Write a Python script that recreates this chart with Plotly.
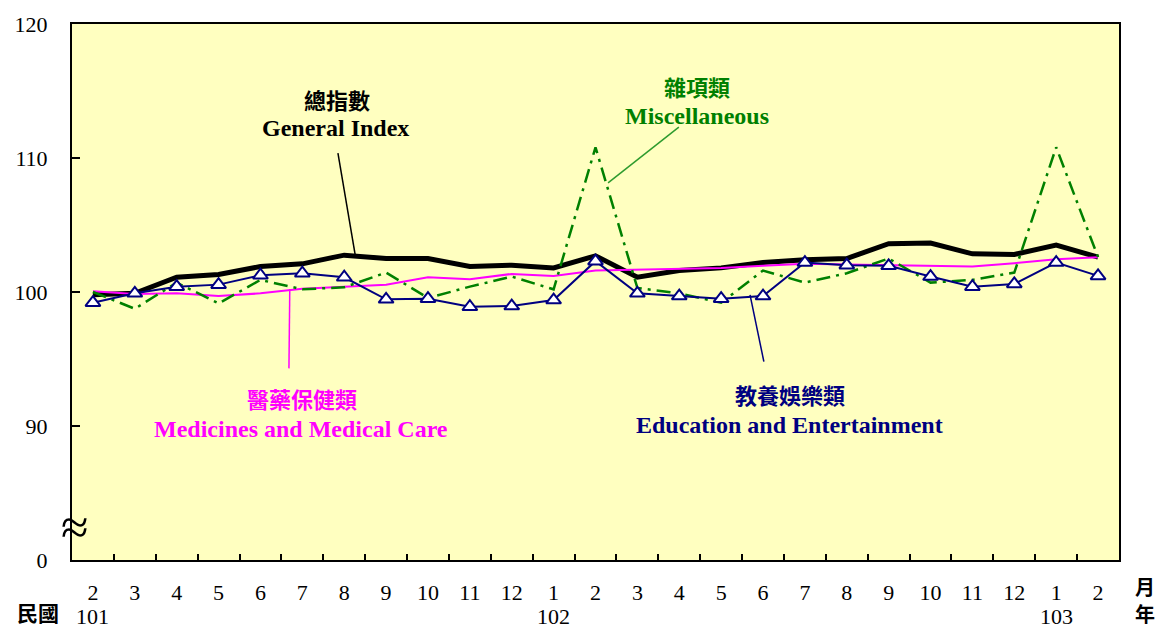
import plotly.graph_objects as go

months = ["2", "3", "4", "5", "6", "7", "8", "9", "10", "11", "12", "1",
          "2", "3", "4", "5", "6", "7", "8", "9", "10", "11", "12", "1", "2"]
year_labels = {0: "101", 11: "102", 23: "103"}

general = [99.8, 99.9, 101.1, 101.3, 101.9, 102.1, 102.75, 102.5, 102.5, 101.9, 102.0, 101.8,
           102.7, 101.1, 101.6, 101.8, 102.2, 102.4, 102.5, 103.6, 103.65, 102.85, 102.8, 103.5, 102.6]
education = [99.2, 99.9, 100.4, 100.55, 101.25, 101.4, 101.1, 99.45, 99.5, 98.9, 98.95, 99.4,
             102.3, 99.9, 99.7, 99.5, 99.7, 102.2, 102.0, 101.95, 101.15, 100.4, 100.6, 102.2, 101.2]
medicines = [100.05, 99.85, 99.9, 99.7, 99.9, 100.25, 100.4, 100.55, 101.1, 100.95, 101.35, 101.2,
             101.6, 101.65, 101.7, 101.8, 101.95, 102.1, 102.05, 102.0, 101.9, 101.9, 102.15, 102.45, 102.6]
misc = [100.0, 98.75, 100.7, 99.15, 100.9, 100.2, 100.35, 101.45, 99.55, 100.4, 101.15, 100.2,
        110.8, 100.3, 99.9, 99.2, 101.6, 100.7, 101.4, 102.5, 100.7, 100.9, 101.45, 110.8, 102.6]

ytick_vals = [80, 90, 100, 110, 120]
ytick_text = ["0", "90", "100", "110", "120"]

xs = list(range(len(months)))
SERIF = "Liberation Serif, Times New Roman, serif"
CJK = "Noto Sans CJK TC"

fig = go.Figure()
fig.add_trace(go.Scatter(x=xs, y=general, mode="lines", line=dict(color="black", width=5),
                         name="總指數 General Index"))
fig.add_trace(go.Scatter(x=xs, y=medicines, mode="lines", line=dict(color="#FF00FF", width=2),
                         name="醫藥保健類"))
fig.add_trace(go.Scatter(x=xs, y=misc, mode="lines",
                         line=dict(color="#008000", width=2.5, dash="14px,6px,3px,6px"),
                         name="雜項類"))
fig.add_trace(go.Scatter(x=xs, y=education, mode="lines+markers",
                         line=dict(color="#000080", width=2),
                         marker=dict(symbol="triangle-up", size=13, color="white",
                                     line=dict(color="#000080", width=2)),
                         name="教養娛樂類"))

ann = []
def label(x, y, text, color, cjk=False):
    ann.append(dict(x=x, y=y, xref="x", yref="y", text=f"<b>{text}</b>", showarrow=False,
                    font=dict(family=CJK if cjk else SERIF, size=22 if cjk else 24, color=color),
                    xanchor="center", yanchor="middle"))

label(5.83, 114.44, "總指數", "black", True)
label(5.80, 112.22, "General Index", "black")
label(14.42, 115.41, "雜項類", "#008000", True)
label(14.42, 113.11, "Miscellaneous", "#008000")
label(4.99, 92.07, "醫藥保健類", "#FF00FF", True)
label(4.97, 89.78, "Medicines and Medical Care", "#FF00FF")
label(16.64, 92.37, "教養娛樂類", "#000080", True)
label(16.64, 90.07, "Education and Entertainment", "#000080")

for i, t in year_labels.items():
    ann.append(dict(x=i, y=0, xref="x", yref="paper", yshift=-56, text=t, showarrow=False,
                    font=dict(family=SERIF, size=22, color="black"), xanchor="center", yanchor="middle"))

W, H = 1158, 630
ML, MR, MT, MB = 72, 39, 20, 70
pw, ph = W - ML - MR, H - MT - MB
px_ann = [
    (38, 612, "<b>民國</b>", CJK, 21),
    (1145, 587, "<b>月</b>", CJK, 20),
    (1145, 614, "<b>年</b>", CJK, 20),
    (74, 527, "≈", SERIF, 50),
]
for (px, py, t, fam, sz) in px_ann:
    ann.append(dict(x=(px - ML) / pw, y=(H - MB - py) / ph, xref="paper", yref="paper",
                    text=t, showarrow=False, font=dict(family=fam, size=sz, color="black"),
                    xanchor="center", yanchor="middle"))

shapes = []
def pointer(x0, y0, x1, y1, color, width=1.5):
    shapes.append(dict(type="line", xref="x", yref="y", x0=x0, y0=y0, x1=x1, y1=y1,
                       line=dict(color=color, width=width)))

pointer(5.85, 110.37, 6.26, 102.81, "black")
pointer(13.99, 112.30, 12.30, 108.15, "#2E9B2E")
pointer(4.68, 94.30, 4.70, 100.22, "#FF00FF")
pointer(16.02, 94.81, 15.69, 99.78, "#000080")

fig.update_layout(
    width=W, height=H,
    margin=dict(l=ML, r=MR, t=MT, b=MB, pad=0),
    paper_bgcolor="white", plot_bgcolor="#FFFFC0",
    showlegend=False,
    annotations=ann, shapes=shapes,
    font=dict(family=SERIF, size=22, color="black"),
)
fig.update_xaxes(
    range=[-0.5, len(months) - 0.5], tickmode="array", tickvals=xs, ticktext=months,
    ticks="", showgrid=False, zeroline=False,
    showline=True, linecolor="black", linewidth=2, mirror=True,
    tickfont=dict(family=SERIF, size=22, color="black"), ticklabelstandoff=12,
    minor=dict(tickmode="array", tickvals=[i + 0.5 for i in xs[:-1]], ticks="inside",
               ticklen=6, tickwidth=1.5, tickcolor="black", showgrid=False),
)
fig.update_yaxes(
    range=[80, 120], tickmode="array", tickvals=ytick_vals, ticktext=ytick_text,
    ticks="inside", ticklen=8, tickwidth=1.5, tickcolor="black",
    showgrid=False, zeroline=False,
    showline=True, linecolor="black", linewidth=2, mirror=True,
    tickfont=dict(family=SERIF, size=22, color="black"), ticklabelstandoff=18,
)

fig.write_html("out.html", config={"displayModeBar": False},
               post_script="document.body.style.margin='0';document.body.style.overflow='hidden';")
